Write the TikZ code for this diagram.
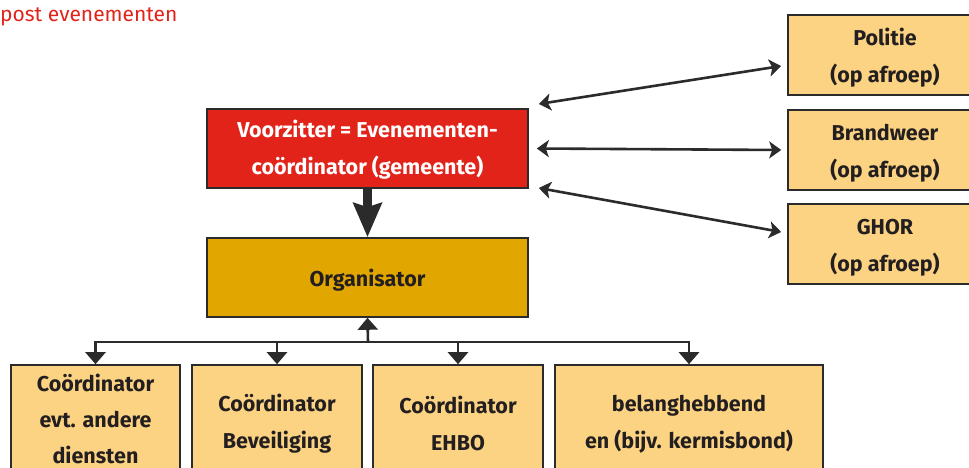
\documentclass[tikz,border=0pt]{standalone}
\usepackage{fontspec}
\setmainfont{Fira Sans}
\usetikzlibrary{arrows.meta,calc}
\definecolor{vred}{HTML}{E2231A}
\definecolor{vgold}{HTML}{E2A600}
\definecolor{vlight}{HTML}{FCD382}
\definecolor{vline}{HTML}{2B2B2B}
\definecolor{vtext}{HTML}{231F20}
\newcommand\tup{\rule{0pt}{22pt}}
\tikzset{
  box/.style={draw=vline,line width=1.6pt,inner sep=0pt,align=center,font=\fontsize{21.5}{37}\selectfont\bfseries,text=vtext},
  dbl/.style={line width=2.6pt,draw=vline,{Stealth[length=12pt,width=17pt,inset=3pt]}-{Stealth[length=12pt,width=17pt,inset=3pt]}},
  busline/.style={line width=2.6pt,draw=vline,-{Triangle[length=12pt,width=20pt]}},
}
\begin{document}
\begin{tikzpicture}[x=1pt,y=-1pt]
\useasboundingbox (0,0) rectangle (969,468);
\clip (0,0) rectangle (969,468);
\node[anchor=base west,text=vred,font=\fontsize{21}{22}\selectfont,inner sep=0pt] (title) at (0,22) {post evenementen};
% central boxes
\node[box,fill=vred,text=white,minimum width=321pt,minimum height=79pt] (red) at (367.5,148.5) {\rule{0pt}{20pt}Voorzitter = Evenementen-\\coördinator (gemeente)};
\node[box,fill=vgold,minimum width=321pt,minimum height=79pt] (org) at (367.5,277.5) {\tup Organisator};
% right boxes
\node[box,fill=vlight,minimum width=194pt,minimum height=80pt] (pol) at (885,55) {\tup Politie\\(op afroep)};
\node[box,fill=vlight,minimum width=194pt,minimum height=80pt] (brw) at (885,150) {\tup Brandweer\\(op afroep)};
\node[box,fill=vlight,minimum width=194pt,minimum height=80pt] (ghor) at (885,244) {\tup GHOR\\(op afroep)};
% bottom boxes
\node[box,fill=vlight,minimum width=169pt,minimum height=108pt,font=\fontsize{21.5}{36}\selectfont\bfseries] (c1) at (95.5,419) {Coördinator\\evt. andere\\diensten};
\node[box,fill=vlight,minimum width=170pt,minimum height=112pt] (c2) at (277,421) {\tup Coördinator\\Beveiliging};
\node[box,fill=vlight,minimum width=170pt,minimum height=112pt] (c3) at (458,421) {\tup Coördinator\\EHBO};
\node[box,fill=vlight,minimum width=268pt,minimum height=112pt] (c4) at (689,421) {\tup belanghebbend\\en (bijv. kermisbond)};
% arrows
\draw[line width=8.5pt,draw=vline,-{Stealth[length=34pt,width=28pt,inset=4pt]}] (red.south) -- (org.north);
\draw[dbl] ([shift={(10,-44.5)}]red.east) -- ([shift={(-6,11)}]pol.west);
\draw[dbl] ([shift={(8,0)}]red.east) -- ([shift={(-6,0)}]brw.west);
\draw[dbl] ([shift={(10,39.5)}]red.east) -- ([shift={(-6,-12)}]ghor.west);
\coordinate (bus) at (368,342);
\draw[busline] (bus) -- (org.south);
\draw[busline] (bus) -| (c1.north);
\draw[busline] (bus) -| (c2.north);
\draw[busline] (bus) -| (c3.north);
\draw[busline] (bus) -| (c4.north);
\end{tikzpicture}
\end{document}
